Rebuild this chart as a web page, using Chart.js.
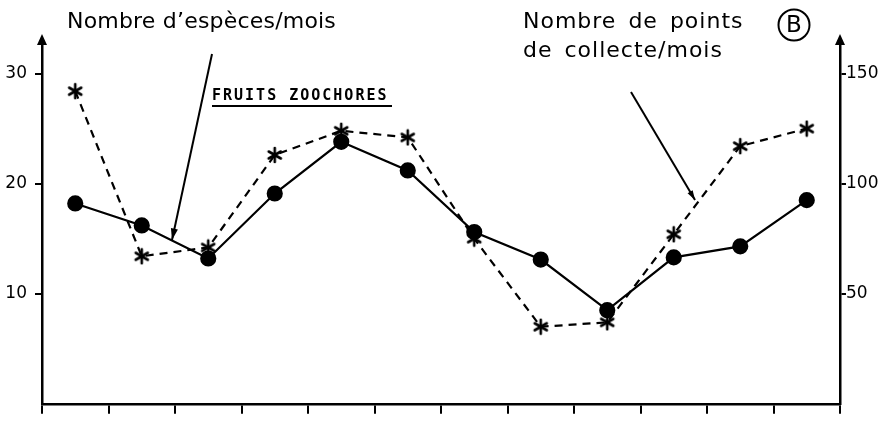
<!DOCTYPE html>
<html>
<head>
<meta charset="utf-8">
<script src="https://cdn.jsdelivr.net/npm/chart.js@4"></script>
<style>
body { margin: 0; background: #fff; }
#wrap { width: 880px; height: 422px; }
</style>
</head>
<body>
<div id="wrap"><canvas id="myChart"></canvas></div>
<script>
// data
var months = ["1", "2", "3", "4", "5", "6", "7", "8", "9", "10", "11", "12"];
var especes = [18.2, 16.2, 13.2, 19.1, 23.8, 21.2, 15.6, 13.1, 8.5, 13.3, 14.3, 18.5];
var pointsCollecte = [142, 67, 71, 113, 124, 121, 75, 35, 37, 77, 117, 125];
var leftTicks = [10, 20, 30];
var rightTicks = [50, 100, 150];

// six-armed asterisk like the typewriter one
var star = document.createElement("canvas");
star.width = 18;
star.height = 18;
var sc = star.getContext("2d");
sc.strokeStyle = "#000";
sc.lineWidth = 2.6;
sc.lineCap = "round";
[90, 30, 150].forEach(function (deg) {
	var a = deg * Math.PI / 180;
	sc.beginPath();
	sc.moveTo(9 + 7 * Math.cos(a), 9 - 7 * Math.sin(a));
	sc.lineTo(9 - 7 * Math.cos(a), 9 + 7 * Math.sin(a));
	sc.stroke();
});

function arrow(ctx, x1, y1, x2, y2, size) {
	ctx.beginPath();
	ctx.moveTo(x1, y1);
	ctx.lineTo(x2, y2);
	ctx.stroke();
	var a = Math.atan2(y2 - y1, x2 - x1);
	ctx.beginPath();
	ctx.moveTo(x2, y2);
	ctx.lineTo(x2 - size * Math.cos(a - 0.3), y2 - size * Math.sin(a - 0.3));
	ctx.lineTo(x2 - size * Math.cos(a + 0.3), y2 - size * Math.sin(a + 0.3));
	ctx.closePath();
	ctx.fill();
}

var extras = {
	id: "extras",
	afterDraw: function (chart) {
		var ctx = chart.ctx;
		var area = chart.chartArea;
		ctx.save();
		ctx.strokeStyle = "#000";
		ctx.fillStyle = "#000";
		ctx.lineWidth = 2;
		// axis arrows
		[area.left, area.right].forEach(function (x) {
			ctx.beginPath();
			ctx.moveTo(x, area.top);
			ctx.lineTo(x, area.top - 4);
			ctx.stroke();
			ctx.beginPath();
			ctx.moveTo(x, area.top - 12);
			ctx.lineTo(x - 5, area.top - 1);
			ctx.lineTo(x + 5, area.top - 1);
			ctx.closePath();
			ctx.fill();
		});
		// texts
		ctx.textBaseline = "middle";
		ctx.font = "22px 'DejaVu Sans'";
		ctx.letterSpacing = "0.2px";
		ctx.fillText("Nombre d\u2019esp\u00e8ces/mois", 67, 22);
		ctx.letterSpacing = "1px";
		ctx.wordSpacing = "4px";
		ctx.fillText("Nombre de points", 523, 22);
		ctx.fillText("de collecte/mois", 523, 51);
		ctx.wordSpacing = "0px";
		ctx.font = "bold 15px 'DejaVu Sans Mono'";
		ctx.letterSpacing = "2px";
		ctx.fillText("FRUITS ZOOCHORES", 212, 96);
		ctx.letterSpacing = "0px";
		ctx.lineWidth = 2;
		ctx.beginPath();
		ctx.moveTo(212, 106);
		ctx.lineTo(392, 106);
		ctx.stroke();
		// circled B
		ctx.beginPath();
		ctx.arc(794, 25, 15.5, 0, Math.PI * 2);
		ctx.stroke();
		ctx.textAlign = "center";
		ctx.font = "23px 'DejaVu Sans'";
		ctx.fillText("B", 794, 26);
		// pointer arrows
		ctx.lineWidth = 2;
		arrow(ctx, 212, 54, 172, 240, 12);
		arrow(ctx, 631, 92, 695, 200, 10);
		ctx.restore();
	},
};

var ctx = document.getElementById("myChart").getContext("2d");
var myChart = new Chart(ctx, {
	type: "line",
	data: {
		labels: months,
		datasets: [
			{
				label: "Nombre d'espèces/mois",
				data: especes,
				yAxisID: "y",
				borderColor: "#000",
				backgroundColor: "#000",
				borderWidth: 2.2,
				pointRadius: 7,
				pointStyle: "circle",
				tension: 0,
			},
			{
				label: "Nombre de points de collecte/mois",
				data: pointsCollecte,
				yAxisID: "y1",
				borderColor: "#000",
				backgroundColor: "#000",
				borderWidth: 2.2,
				borderDash: [8, 6],
				pointRadius: 8,
				pointStyle: star,
				tension: 0,
			},
		],
	},
	options: {
		responsive: true,
		maintainAspectRatio: false,
		animation: false,
		layout: { padding: { top: 46, left: 0, right: 0, bottom: 0 } },
		plugins: { legend: { display: false }, tooltip: { enabled: false } },
		scales: {
			x: {
				offset: true,
				grid: { offset: true, drawOnChartArea: false, tickLength: 10, color: "#000", lineWidth: 2 },
				border: { color: "#000", width: 2.5 },
				ticks: { display: false },
				afterFit: function (s) { s.height = 15; },
			},
			y: {
				position: "left",
				min: 0,
				max: 32.5,
				afterBuildTicks: function (s) { s.ticks = leftTicks.map(function (v) { return { value: v }; }); },
				grid: { drawOnChartArea: false, tickLength: 7, color: "#000", lineWidth: 2 },
				border: { color: "#000", width: 2.5 },
				ticks: { color: "#000", font: { family: "DejaVu Sans", size: 17 }, padding: 8 },
				afterFit: function (s) { s.width = 42; },
			},
			y1: {
				position: "right",
				min: 0,
				max: 162.5,
				afterBuildTicks: function (s) { s.ticks = rightTicks.map(function (v) { return { value: v }; }); },
				grid: { drawOnChartArea: false, tickLength: 6, color: "#000", lineWidth: 2 },
				border: { color: "#000", width: 2.5 },
				ticks: { color: "#000", font: { family: "DejaVu Sans", size: 17 }, padding: 0 },
				afterFit: function (s) { s.width = 40; },
			},
		},
	},
	plugins: [extras],
});
</script>
</body>
</html>
